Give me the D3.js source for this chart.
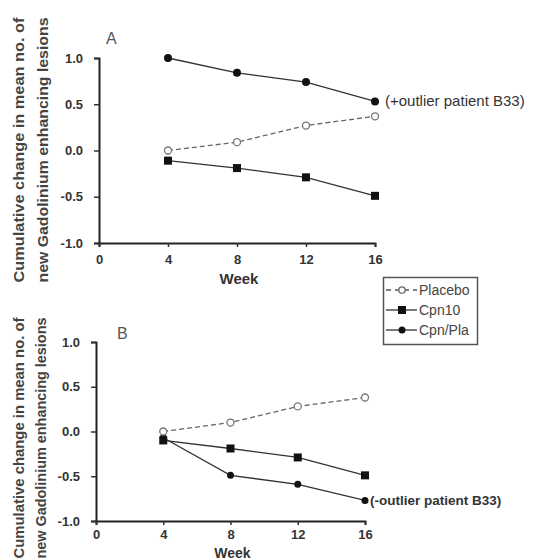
<!DOCTYPE html>
<html>
<head>
<meta charset="utf-8">
<script src="https://cdn.jsdelivr.net/npm/d3@7"></script>
<style>
  body { margin: 0; background: #fff; }
  svg { display: block; font-family: "Liberation Sans", Arial, sans-serif; }
</style>
</head>
<body>
<div id="chart"></div>
<script>
const weeks = [4, 8, 12, 16];
const xTicks = [0, 4, 8, 12, 16];
const yTicks = [-1.0, -0.5, 0.0, 0.5, 1.0];
const seriesNames = ["Placebo", "Cpn10", "Cpn/Pla"];

// panel A (with outlier)
const placeboA = [0.0, 0.09, 0.27, 0.37];
const cpn10A = [-0.11, -0.19, -0.29, -0.49];
const cpnPlaA = [1.0, 0.84, 0.74, 0.53];

// panel B (without outlier)
const placeboB = [0.0, 0.1, 0.28, 0.38];
const cpn10B = [-0.1, -0.19, -0.29, -0.49];
const cpnPlaB = [-0.07, -0.49, -0.59, -0.77];

const yTitle = ["Cumulative change in mean no. of", "new Gadolinium enhancing lesions"];

const svg = d3.select("#chart")
    .append("svg")
    .attr("width", 537)
    .attr("height", 560);

function drawPanel(p) {
  const x = d3.scaleLinear().domain([0, 16]).range([p.left, p.right]);
  const y = d3.scaleLinear().domain([-1, 1]).range([p.bottom, p.top]);
  const g = svg.append("g");

  // axes
  const ya = g.append("g")
      .attr("transform", "translate(" + p.left + ",0)")
      .call(d3.axisLeft(y).tickValues(yTicks).tickFormat(d3.format(".1f"))
        .tickSizeOuter(0).tickSize(5).tickPadding(11));
  const xa = g.append("g")
      .attr("transform", "translate(0," + p.bottom + ")")
      .call(d3.axisBottom(x).tickValues(xTicks).tickSizeOuter(0).tickSize(4).tickPadding(p.xPad));
  [ya, xa].forEach(a => {
    a.select(".domain").attr("stroke", "#222").attr("stroke-width", 2);
    a.selectAll(".tick line").attr("stroke", "#333").attr("stroke-width", 1.5);
    a.selectAll("text").attr("font-size", 13).attr("font-weight", "bold")
      .attr("fill", "#333").attr("font-family", "Liberation Sans, Arial, sans-serif");
  });
  ya.selectAll(".tick text").text(d => d3.format(".1f")(d).replace("−", "-"));

  g.append("text")
      .attr("x", (p.left + p.right) / 2 + 2)
      .attr("y", p.weekY)
      .attr("text-anchor", "middle")
      .attr("font-size", p.weekSize).attr("font-weight", "bold").attr("fill", "#333")
      .text("Week");

  yTitle.forEach((t, i) => {
    g.append("text")
      .attr("transform", "translate(" + (p.titleX + i * p.titleGap) + "," + p.titleY + ") rotate(-90)")
      .attr("text-anchor", "middle")
      .attr("font-size", p.titleSize).attr("font-weight", "bold").attr("fill", "#444")
      .attr("textLength", p.titleLen).attr("lengthAdjust", "spacingAndGlyphs")
      .text(t);
  });

  g.append("text")
      .attr("x", p.letterX).attr("y", p.letterY)
      .attr("font-size", 16).attr("fill", "#555")
      .text(p.letter);

  const line = d3.line().x((d, i) => x(weeks[i])).y(d => y(d));

  // lines
  g.append("path").datum(p.placebo).attr("d", line)
      .attr("fill", "none").attr("stroke", "#666").attr("stroke-width", 1.3)
      .attr("stroke-dasharray", "5,3");
  g.append("path").datum(p.cpn10).attr("d", line)
      .attr("fill", "none").attr("stroke", "#333").attr("stroke-width", 1.3);
  g.append("path").datum(p.cpnPla).attr("d", line)
      .attr("fill", "none").attr("stroke", "#333").attr("stroke-width", 1.3);

  // markers
  g.selectAll(".sq").data(p.cpn10).enter().append("rect")
      .attr("x", (d, i) => x(weeks[i]) - 4).attr("y", d => y(d) - 4)
      .attr("width", 8).attr("height", 8).attr("fill", "#111");
  g.selectAll(".dot").data(p.cpnPla).enter().append("circle")
      .attr("cx", (d, i) => x(weeks[i])).attr("cy", d => y(d))
      .attr("r", p.dotR).attr("fill", "#111");
  g.selectAll(".open").data(p.placebo).enter().append("circle")
      .attr("cx", (d, i) => x(weeks[i])).attr("cy", d => y(d))
      .attr("r", 3.5).attr("fill", "#fff").attr("stroke", "#777").attr("stroke-width", 1.3);

  const last = p.cpnPla.length - 1;
  g.append("text")
      .attr("x", x(weeks[last]) + p.noteDx)
      .attr("y", y(p.cpnPla[last]) + 5)
      .attr("font-size", p.noteSize).attr("font-weight", p.noteWeight).attr("fill", "#333")
      .text(p.note);
}

drawPanel({
  left: 99, right: 375, top: 58, bottom: 243,
  placebo: placeboA, cpn10: cpn10A, cpnPla: cpnPlaA,
  letter: "A", letterX: 106, letterY: 44, weekY: 284, weekSize: 15, xPad: 8,
  titleX: 24, titleGap: 24, titleY: 150, titleSize: 15, titleLen: 265, dotR: 4,
  note: "(+outlier patient B33)", noteDx: 10, noteSize: 15, noteWeight: "normal"
});

drawPanel({
  left: 96, right: 365, top: 342, bottom: 521,
  placebo: placeboB, cpn10: cpn10B, cpnPla: cpnPlaB,
  letter: "B", letterX: 117, letterY: 339, weekY: 558, weekSize: 14, xPad: 5,
  titleX: 24, titleGap: 22, titleY: 438, titleSize: 14, titleLen: 241, dotR: 3.5,
  note: "(-outlier patient B33)", noteDx: 5, noteSize: 13.5, noteWeight: "bold"
});

// legend
const lg = svg.append("g");
lg.append("rect")
    .attr("x", 383.5).attr("y", 277.5).attr("width", 94).attr("height", 67)
    .attr("fill", "#fff").attr("stroke", "#555").attr("stroke-width", 1.5);
const legendY = d3.scalePoint().domain(seriesNames).range([290, 330]);
seriesNames.forEach(name => {
  const yy = legendY(name);
  const ln = lg.append("line").attr("x1", 386).attr("x2", 417).attr("y1", yy).attr("y2", yy)
      .attr("stroke", name === "Placebo" ? "#555" : "#333").attr("stroke-width", 1.3);
  if (name === "Placebo") {
    ln.attr("stroke-dasharray", "5,4");
    lg.append("circle").attr("cx", 402).attr("cy", yy).attr("r", 3.2)
      .attr("fill", "#fff").attr("stroke", "#666").attr("stroke-width", 1.3);
  } else if (name === "Cpn10") {
    lg.append("rect").attr("x", 398).attr("y", yy - 4).attr("width", 8).attr("height", 8).attr("fill", "#111");
  } else {
    lg.append("circle").attr("cx", 402).attr("cy", yy).attr("r", 3.5).attr("fill", "#111");
  }
  lg.append("text").attr("x", 419).attr("y", yy + 5)
      .attr("font-size", 14).attr("fill", "#444").text(name);
});
</script>
</body>
</html>
